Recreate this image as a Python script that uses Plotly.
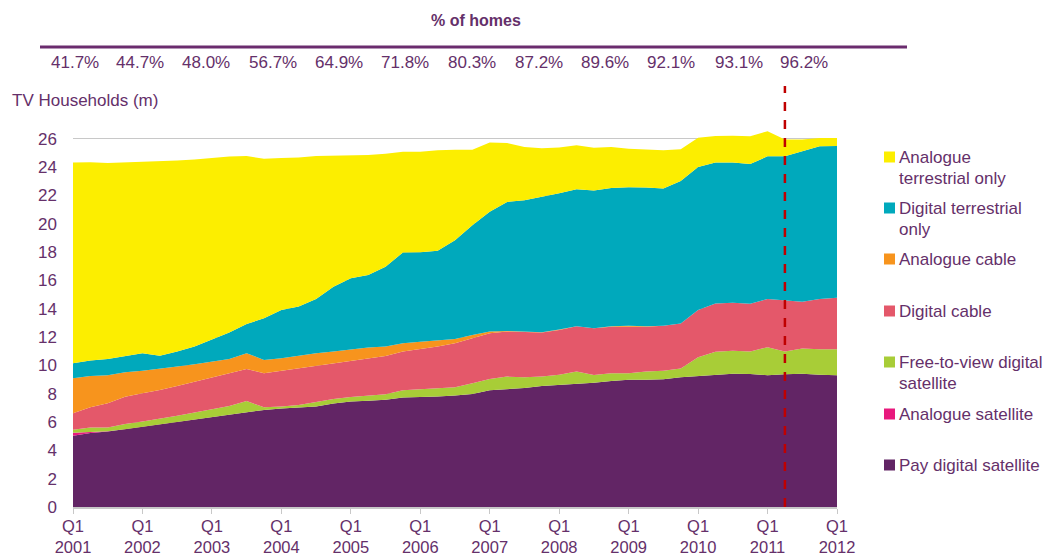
import plotly.graph_objects as go

# ---- data (millions of TV households, per quarter Q1 2001 .. Q1 2012) ----
years = list(range(2001, 2013))
quarters = [f"Q{q} {y}" for y in years for q in (1, 2, 3, 4)][:45]

pay_digital_satellite = [5.03, 5.22, 5.33, 5.50, 5.67, 5.83, 6.02, 6.19, 6.35, 6.51, 6.67, 6.86, 6.95, 7.02, 7.10,
                         7.31, 7.45, 7.50, 7.57, 7.73, 7.75, 7.80, 7.87, 7.98, 8.24, 8.32, 8.41, 8.55,
                         8.62, 8.74, 8.78, 8.90, 8.98, 8.98, 9.02, 9.16, 9.26, 9.35, 9.42, 9.40, 9.31, 9.38, 9.42, 9.35, 9.31]
analogue_satellite = [0.22, 0.10, 0.02] + [0.0] * 42
ftv_digital_satellite = [0.20, 0.29, 0.26, 0.37, 0.37, 0.40, 0.42, 0.48, 0.55, 0.63, 0.82, 0.18, 0.15, 0.19, 0.32,
                         0.32, 0.32, 0.34, 0.39, 0.51, 0.57, 0.56, 0.59, 0.76, 0.80, 0.89, 0.75, 0.66,
                         0.72, 0.83, 0.55, 0.55, 0.47, 0.59, 0.60, 0.62, 1.32, 1.61, 1.61, 1.58, 1.98, 1.60, 1.77, 1.80, 1.84]
digital_cable = [1.18, 1.43, 1.71, 1.92, 1.99, 2.03, 2.11, 2.18, 2.24, 2.26, 2.26, 2.41, 2.52, 2.60, 2.55,
                 2.53, 2.58, 2.66, 2.71, 2.74, 2.82, 2.97, 3.10, 3.15, 3.23, 3.18, 3.18, 3.11,
                 3.17, 3.19, 3.29, 3.29, 3.29, 3.17, 3.19, 3.19, 3.33, 3.42, 3.40, 3.38, 3.40, 3.64, 3.31, 3.54, 3.63]
analogue_cable = [2.47, 2.22, 1.98, 1.73, 1.60, 1.54, 1.37, 1.23, 1.13, 1.06, 1.11, 0.94, 0.88, 0.88, 0.89,
                  0.82, 0.79, 0.76, 0.66, 0.58, 0.54, 0.42, 0.31, 0.26, 0.12, 0.05, 0.03, 0.02,
                  0.02, 0.01, 0.01, 0.03, 0.06, 0.02, 0, 0, 0, 0, 0, 0, 0, 0, 0, 0, 0]
digital_terrestrial = [1.05, 1.08, 1.16, 1.15, 1.23, 0.89, 1.06, 1.25, 1.53, 1.86, 2.07, 2.94, 3.42, 3.47, 3.84,
                       4.58, 5.01, 5.12, 5.64, 6.42, 6.32, 6.35, 6.98, 7.76, 8.46, 9.11, 9.30, 9.56,
                       9.64, 9.68, 9.73, 9.77, 9.79, 9.81, 9.69, 10.06, 10.11, 9.95, 9.90, 9.87, 10.08, 10.15, 10.60, 10.79, 10.72]
analogue_terrestrial = [14.18, 14.01, 13.84, 13.66, 13.51, 13.73, 13.49, 13.21, 12.86, 12.43, 11.87, 11.26, 10.74, 10.52, 10.09,
                        9.26, 8.70, 8.49, 7.99, 7.12, 7.10, 7.10, 6.39, 5.33, 4.90, 4.16, 3.76, 3.44,
                        3.23, 3.10, 3.02, 2.89, 2.72, 2.67, 2.70, 2.24, 2.07, 1.88, 1.90, 1.96, 1.77, 1.18, 0.85, 0.59, 0.57]

pct_homes = ["41.7%", "44.7%", "48.0%", "56.7%", "64.9%", "71.8%", "80.3%", "87.2%", "89.6%", "92.1%", "93.1%", "96.2%"]
tick_quarters = [q for q in quarters if q.startswith("Q1")]
tick_text = [q.replace(" ", "<br>") for q in tick_quarters]
marker_quarter = "Q2 2011"

series = [
    ("Pay digital satellite", pay_digital_satellite, "#622565"),
    ("Analogue satellite", analogue_satellite, "#E8197D"),
    ("Free-to-view digital satellite", ftv_digital_satellite, "#A8CD37"),
    ("Digital cable", digital_cable, "#E4586A"),
    ("Analogue cable", analogue_cable, "#F7941D"),
    ("Digital terrestrial only", digital_terrestrial, "#00A9BC"),
    ("Analogue terrestrial only", analogue_terrestrial, "#FCEE00"),
]

TXT = "#65306a"
FONT = "Liberation Sans, Arial, sans-serif"

# page body has an 8px margin: figure coordinates = screen coordinates - 8
OFF = 8
W, H = 1050 - OFF, 558 - OFF
L, R, T, B = 65, 213, 121, 51
PW, PH = W - L - R, H - T - B


def px(x):
    return (x - OFF - L) / PW


def py(y):
    return (H - B - (y - OFF)) / PH


def ann(x, y, text, size=17, xanchor="center", bold=False):
    return dict(x=px(x), y=py(y), xref="paper", yref="paper", text=f"<b>{text}</b>" if bold else text,
                xanchor=xanchor, yanchor="middle", showarrow=False,
                font=dict(size=size, color=TXT, family=FONT))


fig = go.Figure()
for name, vals, col in series:
    fig.add_trace(go.Scatter(
        x=quarters, y=vals, name=name, mode="lines", stackgroup="one",
        line=dict(width=0, color=col), fillcolor=col, showlegend=False,
    ))

annotations = []
shapes = []

# top header
annotations.append(ann(476, 20, "% of homes", size=16, bold=True))
shapes.append(dict(type="line", xref="paper", yref="paper", x0=px(40), x1=px(907), y0=py(47), y1=py(47),
                   line=dict(color="#6b2c6e", width=3)))
pct_x = [75, 140, 206, 273, 339, 405, 472, 539, 605, 671, 739, 804]
for xx, t in zip(pct_x, pct_homes):
    annotations.append(ann(xx, 62, t))

annotations.append(ann(10, 100, "TV Households (m)", xanchor="left"))

# custom legend
legend_rows = [
    ("Analogue terrestrial only", ["Analogue", "terrestrial only"], 157),
    ("Digital terrestrial only", ["Digital terrestrial", "only"], 208),
    ("Analogue cable", ["Analogue cable"], 259),
    ("Digital cable", ["Digital cable"], 311),
    ("Free-to-view digital satellite", ["Free-to-view digital", "satellite"], 362),
    ("Analogue satellite", ["Analogue satellite"], 414),
    ("Pay digital satellite", ["Pay digital satellite"], 465),
]
colors = {n: c for n, _, c in series}
for name, lines, yc in legend_rows:
    shapes.append(dict(type="rect", xref="paper", yref="paper", x0=px(884), x1=px(895),
                       y0=py(yc + 5.5), y1=py(yc - 5.5), fillcolor=colors[name], line=dict(width=0)))
    for k, ln in enumerate(lines):
        annotations.append(ann(897, yc + 21 * k, ln, xanchor="left"))

# dashed marker line
shapes.append(dict(type="line", xref="x", yref="paper", x0=quarters.index(marker_quarter),
                   x1=quarters.index(marker_quarter), y0=0, y1=py(86),
                   line=dict(color="#C00000", width=2.5, dash="dash")))

fig.update_layout(
    width=W, height=H, margin=dict(l=L, r=R, t=T, b=B, autoexpand=False),
    paper_bgcolor="white", plot_bgcolor="white",
    font=dict(family=FONT, color=TXT, size=17),
    annotations=annotations, shapes=shapes,
    xaxis=dict(type="category", range=[0, 44], tickmode="array", tickvals=tick_quarters, ticktext=tick_text,
               showgrid=False, showline=True, linecolor="#c8c8c8", linewidth=1.5, automargin=False,
               ticks="outside", ticklen=5, tickcolor="#c8c8c8", tickfont=dict(size=16.5, color=TXT),
               ticklabelstandoff=-2, zeroline=False),
    yaxis=dict(range=[0, 26.7], tickvals=list(range(0, 27, 2)), showgrid=True, gridcolor="#c8c8c8",
               zeroline=False, showline=False, ticks="", tickfont=dict(size=17, color=TXT),
               ticklabelstandoff=15, automargin=False),
)

fig.write_html("out.html")
